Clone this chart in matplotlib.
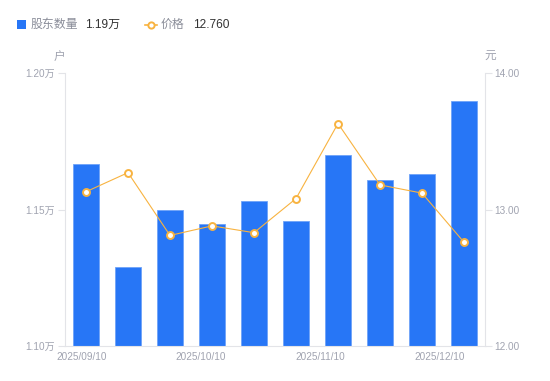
import matplotlib
matplotlib.use("Agg")
import matplotlib.pyplot as plt
import numpy as np

plt.rcParams['font.family'] = ['Liberation Sans', 'Noto Sans CJK SC', 'DejaVu Sans']

dates = ["2025/09/10", "2025/09/19", "2025/09/30", "2025/10/10", "2025/10/20",
         "2025/10/31", "2025/11/10", "2025/11/20", "2025/11/28", "2025/12/10"]
holders = [1.1667, 1.1289, 1.1498, 1.1447, 1.1531, 1.1458, 1.1700, 1.1608, 1.1630, 1.1897]  # 万户
price = [13.13, 13.27, 12.81, 12.88, 12.83, 13.08, 13.63, 13.18, 13.12, 12.76]
xtick_labels = ["2025/09/10", "2025/10/10", "2025/11/10", "2025/12/10"]
xtick_pos = [-0.095, 2.74, 5.57, 8.43]
left_ticks = [1.10, 1.15, 1.20]
right_ticks = [12.0, 13.0, 14.0]

BLUE = "#2776f6"
ORANGE = "#f8b340"
GRAY = "#a0a3b0"
AXIS = "#e3e4e8"
DARK = "#333333"

W, H = 550, 381
fig = plt.figure(figsize=(W / 100, H / 100), dpi=100)
ax = fig.add_axes([65 / W, 1 - 346 / H, 420 / W, 273 / H])
ax2 = ax.twinx()

x = np.arange(len(dates))
ax.bar(x, holders, width=0.6, color=BLUE, edgecolor="#6fa3f8", linewidth=0.6, zorder=2)
ax.set_xlim(-0.5, len(dates) - 0.5)
ax.set_ylim(1.10, 1.20)
ax.set_yticks(left_ticks)
ax.set_yticklabels([f"{v:.2f}万" for v in left_ticks])

ax2.plot(x, price, color=ORANGE, linewidth=0.8, marker="o", markersize=5,
         markerfacecolor="white", markeredgecolor=ORANGE, markeredgewidth=1.4, zorder=3)
ax2.set_ylim(12.0, 14.0)
ax2.set_yticks(right_ticks)
ax2.set_yticklabels([f"{v:.2f}" for v in right_ticks])

ax.set_xticks(xtick_pos)
ax.set_xticklabels(xtick_labels)

for a in (ax, ax2):
    for s in a.spines.values():
        s.set_visible(False)
ax.spines['left'].set_visible(True)
ax.spines['left'].set_color(AXIS)
ax.spines['bottom'].set_visible(True)
ax.spines['bottom'].set_color(AXIS)
ax2.spines['right'].set_visible(True)
ax2.spines['right'].set_color(AXIS)

ax.tick_params(axis='y', colors=AXIS, labelcolor=GRAY, labelsize=7.2, length=5, width=0.8, pad=2)
ax2.tick_params(axis='y', colors=AXIS, labelcolor=GRAY, labelsize=7.2, length=5, width=0.8, pad=2)
ax.tick_params(axis='x', length=0, labelcolor=GRAY, labelsize=7.2, pad=4)

fig.text(59 / W, 1 - 57 / H, "户", ha='center', va='center', fontsize=8.4, color=GRAY)
fig.text(490 / W, 1 - 57 / H, "元", ha='center', va='center', fontsize=8.4, color=GRAY)

# legend
fig.patches.append(plt.Rectangle((17 / W, 1 - 29 / H), 9 / W, 9 / H, transform=fig.transFigure,
                                 facecolor=BLUE, edgecolor='none'))
fig.text(31 / W, 1 - 24.5 / H, "股东数量", ha='left', va='center', fontsize=8.6, color="#8a8d99")
fig.text(85 / W, 1 - 24.5 / H, f"{holders[-1]:.2f}万", ha='left', va='center', fontsize=8.6, color=DARK)
fig.lines.append(plt.Line2D([145 / W, 157 / W], [1 - 24.5 / H, 1 - 24.5 / H], transform=fig.transFigure,
                            color=ORANGE, linewidth=1.2))
fig.lines.append(plt.Line2D([151 / W], [1 - 24.5 / H], transform=fig.transFigure, marker='o',
                            markersize=4.5, markerfacecolor='white', markeredgecolor=ORANGE,
                            markeredgewidth=1.4))
fig.text(161 / W, 1 - 24.5 / H, "价格", ha='left', va='center', fontsize=8.6, color="#8a8d99")
fig.text(193 / W, 1 - 24.5 / H, f"{price[-1]:.3f}", ha='left', va='center', fontsize=8.6, color=DARK)

fig.savefig("out.png", dpi=100)
